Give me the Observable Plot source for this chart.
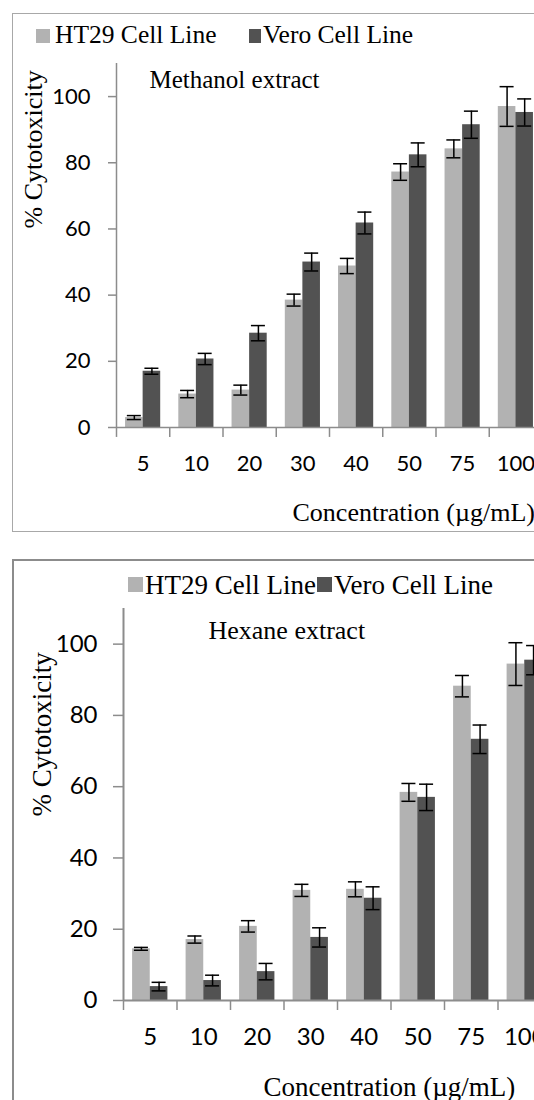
<!DOCTYPE html>
<html>
<head>
<meta charset="utf-8">
<script src="https://cdn.jsdelivr.net/npm/d3@7"></script>
<script src="https://cdn.jsdelivr.net/npm/@observablehq/plot@0.6"></script>
<style>
  html, body { margin: 0; padding: 0; background: #fff; }
  #page { position: relative; width: 534px; height: 1100px; overflow: hidden; background: #fff; }
  .border { position: absolute; box-sizing: border-box; background: transparent; }
  .lg-sw { position: absolute; }
  .lg-tx { position: absolute; font-family: "Liberation Serif", "Times New Roman", serif; line-height: 1; white-space: nowrap; color: #000; }
</style>
</head>
<body>
<div id="page"></div>
<script>
// ---------- data ----------
const concentrations = ["5", "10", "20", "30", "40", "50", "75", "100"];
const seriesNames = ["HT29 Cell Line", "Vero Cell Line"];
const seriesColors = ["#b2b2b2", "#525252"];
const yTicks = [0, 20, 40, 60, 80, 100];
const yMax = 110;

const methanolHT29    = [3.0, 10.1, 11.3, 38.5, 48.8, 77.2, 84.2, 97.0];
const methanolHT29Err = [0.6, 1.1, 1.5, 1.8, 2.3, 2.5, 2.7, 6.0];
const methanolVero    = [17.0, 20.7, 28.5, 50.0, 61.8, 82.4, 91.5, 95.2];
const methanolVeroErr = [0.9, 1.7, 2.3, 2.7, 3.3, 3.6, 4.1, 4.1];

const hexaneHT29    = [14.5, 17.1, 20.8, 30.9, 31.2, 58.4, 88.2, 94.4];
const hexaneHT29Err = [0.4, 1.0, 1.6, 1.7, 2.1, 2.5, 3.0, 6.0];
const hexaneVero    = [3.9, 5.6, 8.1, 17.7, 28.7, 57.0, 73.3, 95.5];
const hexaneVeroErr = [1.2, 1.5, 2.3, 2.7, 3.2, 3.7, 4.0, 4.1];

const yLabel = "% Cytotoxicity";
const xLabel = "Concentration (µg/mL)";

// ---------- helpers ----------
const page = document.getElementById("page");
const SERIF = "Liberation Serif, Times New Roman, serif";
const SANS = "Lato, Liberation Sans, Arial, sans-serif";

function addBorder(left, top, width, height, css) {
  const d = document.createElement("div");
  d.className = "border";
  Object.assign(d.style, {left: left + "px", top: top + "px", width: width + "px", height: height + "px"}, css);
  page.appendChild(d);
}

function addLegend(items) {
  for (const it of items) {
    const sw = document.createElement("div");
    sw.className = "lg-sw";
    Object.assign(sw.style, {left: it.sx + "px", top: it.sy + "px", width: it.sw + "px", height: it.sh + "px", background: it.color});
    page.appendChild(sw);
    const tx = document.createElement("div");
    tx.className = "lg-tx";
    tx.textContent = it.label;
    Object.assign(tx.style, {left: it.tx + "px", top: (it.baseline - 0.8375 * it.fs) + "px", fontSize: it.fs + "px"});
    page.appendChild(tx);
  }
}

function makeChart(cfg) {
  const rows = concentrations.flatMap((c, i) => [
    {c, s: seriesNames[0], v: cfg.a[i], e: cfg.aErr[i]},
    {c, s: seriesNames[1], v: cfg.b[i], e: cfg.bErr[i]}
  ]);
  const A = rows.filter(d => d.s === seriesNames[0]);
  const B = rows.filter(d => d.s === seriesNames[1]);
  const pad = 0.34;
  const step = (cfg.width - cfg.marginLeft - cfg.marginRight) / concentrations.length;
  const bw = step * (1 - pad);
  const cap = 7;
  const errStyle = {stroke: "#000", strokeWidth: 1.5};
  const gray = "#8c8c8c";

  const svg = Plot.plot({
    width: cfg.width,
    height: cfg.height,
    marginLeft: cfg.marginLeft,
    marginRight: cfg.marginRight,
    marginTop: cfg.marginTop,
    marginBottom: cfg.marginBottom,
    style: {background: "transparent", overflow: "visible", color: "#000", maxWidth: "none"},
    x: {type: "band", domain: concentrations, paddingInner: pad, paddingOuter: pad / 2, round: false},
    y: {domain: [0, yMax]},
    marks: [
      Plot.barY(A, {x: "c", y: "v", fill: seriesColors[0], insetRight: bw / 2}),
      Plot.barY(B, {x: "c", y: "v", fill: seriesColors[1], insetLeft: bw / 2}),
      // error bars
      Plot.ruleX(A, {x: "c", y1: d => d.v - d.e, y2: d => d.v + d.e, dx: -bw / 4, ...errStyle}),
      Plot.ruleX(B, {x: "c", y1: d => d.v - d.e, y2: d => d.v + d.e, dx: bw / 4, ...errStyle}),
      Plot.tickY(A, {x: "c", y: d => d.v - d.e, insetLeft: bw / 4 - cap, insetRight: 3 * bw / 4 - cap, ...errStyle}),
      Plot.tickY(A, {x: "c", y: d => d.v + d.e, insetLeft: bw / 4 - cap, insetRight: 3 * bw / 4 - cap, ...errStyle}),
      Plot.tickY(B, {x: "c", y: d => d.v - d.e, insetLeft: 3 * bw / 4 - cap, insetRight: bw / 4 - cap, ...errStyle}),
      Plot.tickY(B, {x: "c", y: d => d.v + d.e, insetLeft: 3 * bw / 4 - cap, insetRight: bw / 4 - cap, ...errStyle}),
      // axis lines
      Plot.ruleY([0], {stroke: gray, strokeWidth: cfg.axisWidth}),
      Plot.ruleX([concentrations[0]], {x: d => d, dx: -step / 2, y1: 0, y2: yMax, stroke: gray, strokeWidth: cfg.axisWidth}),
      // category separator ticks below the axis
      Plot.ruleX(concentrations, {x: d => d, dx: -step / 2, y1: 0, y2: -cfg.sepLen, stroke: gray, strokeWidth: 1.5}),
      Plot.ruleX([concentrations[concentrations.length - 1]], {x: d => d, dx: step / 2, y1: 0, y2: -cfg.sepLen, stroke: gray, strokeWidth: 1.5}),
      Plot.axisY(yTicks, {tickSize: cfg.yTickSize, tickPadding: cfg.yTickPad, fontSize: cfg.tickFont, fontFamily: SANS, stroke: gray, strokeWidth: 1.5, label: null}),
      Plot.axisX({tickSize: 0, tickPadding: cfg.xTickPad, fontSize: cfg.tickFont, fontFamily: SANS, label: null}),
      // titles
      Plot.text([yLabel], {frameAnchor: "left", rotate: -90, dx: cfg.yLabelDx, dy: cfg.yLabelDy, fontSize: cfg.labelFont, fontFamily: SERIF, fill: "#000"}),
      Plot.text([cfg.title], {frameAnchor: "top-left", textAnchor: "start", lineAnchor: "bottom", dx: cfg.titleDx, dy: cfg.titleDy, fontSize: cfg.titleFont, fontFamily: SERIF, fill: "#000"}),
      Plot.text([xLabel], {frameAnchor: "bottom-left", textAnchor: "start", lineAnchor: "bottom", dx: cfg.xLabelDx, dy: cfg.xLabelDy, fontSize: cfg.labelFont, fontFamily: SERIF, fill: "#000"})
    ]
  });
  svg.style.position = "absolute";
  svg.style.top = cfg.top + "px";
  svg.style.left = "0px";
  svg.style.maxWidth = "none";
  svg.style.width = cfg.width + "px";
  svg.style.height = cfg.height + "px";
  page.appendChild(svg);
}

// ---------- panel 1 : Methanol ----------
addBorder(12, 13, 620, 519, {border: "1px solid #a8a8a8"});
makeChart({
  top: 0, width: 560, height: 532,
  marginLeft: 116, marginRight: 18, marginTop: 63, marginBottom: 105,
  a: methanolHT29, aErr: methanolHT29Err, b: methanolVero, bErr: methanolVeroErr,
  title: "Methanol extract",
  tickFont: 22, labelFont: 26, titleFont: 25,
  yTickSize: 8, yTickPad: 18, xTickPad: 28, sepLen: 3, axisWidth: 1.5,
  yLabelDx: -83, yLabelDy: -17,
  titleDx: 33, titleDy: 24,
  xLabelDx: 176, xLabelDy: 93
});
addLegend([
  {sx: 36, sy: 29, sw: 14, sh: 14, color: seriesColors[0], tx: 55, baseline: 43, fs: 25.5, label: seriesNames[0]},
  {sx: 249, sy: 29, sw: 12, sh: 14, color: seriesColors[1], tx: 263, baseline: 43, fs: 25.5, label: seriesNames[1]}
]);

// ---------- panel 2 : Hexane ----------
addBorder(12, 559, 620, 600, {borderTop: "2px solid #8c8c8c", borderLeft: "2px solid #8c8c8c"});
makeChart({
  top: 545, width: 575, height: 555,
  marginLeft: 123, marginRight: 24, marginTop: 63, marginBottom: 100,
  a: hexaneHT29, aErr: hexaneHT29Err, b: hexaneVero, bErr: hexaneVeroErr,
  title: "Hexane extract",
  tickFont: 24, labelFont: 27, titleFont: 26,
  yTickSize: 10, yTickPad: 16, xTickPad: 27, sepLen: 2.8, axisWidth: 2,
  yLabelDx: -81, yLabelDy: 12,
  titleDx: 85, titleDy: 30,
  xLabelDx: 140, xLabelDy: 95
});
addLegend([
  {sx: 128, sy: 577, sw: 15, sh: 15, color: seriesColors[0], tx: 145, baseline: 595, fs: 27, label: seriesNames[0]},
  {sx: 317, sy: 577, sw: 15, sh: 15, color: seriesColors[1], tx: 334, baseline: 595, fs: 27, label: seriesNames[1]}
]);
</script>
</body>
</html>
